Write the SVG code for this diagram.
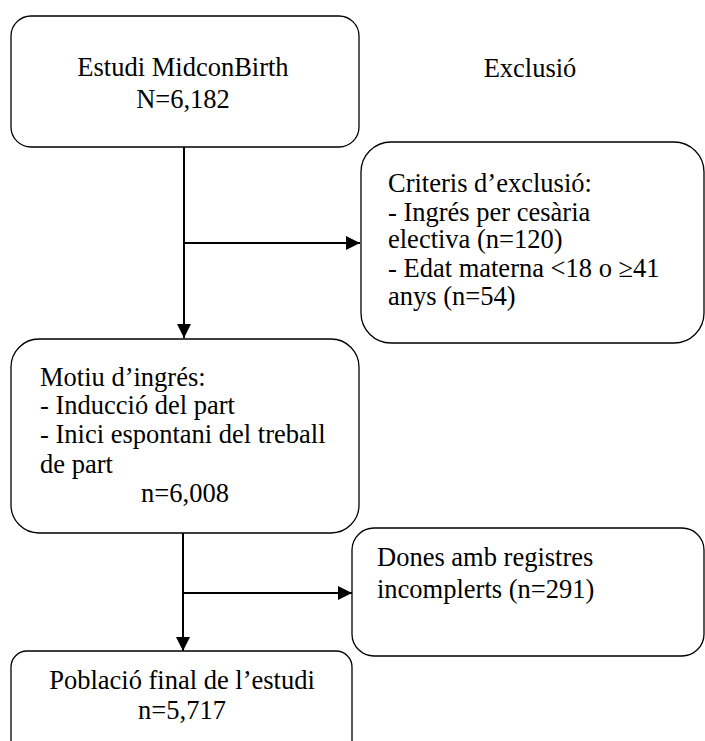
<svg xmlns="http://www.w3.org/2000/svg" width="705" height="741" viewBox="0 0 705 741">
  <style>
    .box { fill: #ffffff; stroke: #000000; stroke-width: 1.3; }
    .txt { font-family: 'Liberation Serif', 'Times New Roman', serif; font-size: 26.5px; fill: #000000; }
    .mid { text-anchor: middle; }
    .conn { stroke: #000000; stroke-width: 2; fill: none; }
  </style>
  <defs>
    <marker id="arrow" viewBox="0 0 10 10" refX="10" refY="5" markerWidth="15" markerHeight="14" markerUnits="userSpaceOnUse" orient="auto">
      <path d="M0,0 L10,5 L0,10 z" fill="#000000"/>
    </marker>
  </defs>
  <rect width="705" height="741" fill="#ffffff"/>

  <text class="txt mid" x="530" y="77">Exclusió</text>

  <g id="connectors">
    <line class="conn" x1="184" y1="147" x2="184" y2="338" marker-end="url(#arrow)"/>
    <line class="conn" x1="184" y1="243" x2="360" y2="243" marker-end="url(#arrow)"/>
    <line class="conn" x1="183" y1="533" x2="183" y2="651" marker-end="url(#arrow)"/>
    <line class="conn" x1="183" y1="593" x2="352" y2="593" marker-end="url(#arrow)"/>
  </g>

  <g id="study">
    <rect class="box" x="11" y="16" width="348" height="131" rx="20" ry="20"/>
    <text class="txt mid" x="183" y="76">Estudi MidconBirth</text>
    <text class="txt mid" x="183" y="108">N=6,182</text>
  </g>

  <g id="exclusion-criteria">
    <rect class="box" x="361" y="142" width="343" height="201" rx="30" ry="30"/>
    <text class="txt" x="388" y="192">Criteris d’exclusió:</text>
    <text class="txt" x="388" y="221">- Ingrés per cesària</text>
    <text class="txt" x="388" y="248">electiva (n=120)</text>
    <text class="txt" x="388" y="277">- Edat materna &lt;18 o ≥41</text>
    <text class="txt" x="388" y="305">anys (n=54)</text>
  </g>

  <g id="admission">
    <rect class="box" x="11" y="339" width="348" height="194" rx="28" ry="28"/>
    <text class="txt" x="40" y="386">Motiu d’ingrés:</text>
    <text class="txt" x="40" y="414">- Inducció del part</text>
    <text class="txt" x="40" y="443">- Inici espontani del treball</text>
    <text class="txt" x="40" y="473">de part</text>
    <text class="txt mid" x="185" y="502">n=6,008</text>
  </g>

  <g id="incomplete-records">
    <rect class="box" x="352" y="528" width="352" height="128" rx="22" ry="22"/>
    <text class="txt" x="377" y="566">Dones amb registres</text>
    <text class="txt" x="377" y="598">incomplerts (n=291)</text>
  </g>

  <g id="final-population">
    <rect class="box" x="11" y="651" width="341" height="110" rx="16" ry="16"/>
    <text class="txt mid" x="182" y="689">Població final de l’estudi</text>
    <text class="txt mid" x="182" y="719">n=5,717</text>
  </g>
</svg>
